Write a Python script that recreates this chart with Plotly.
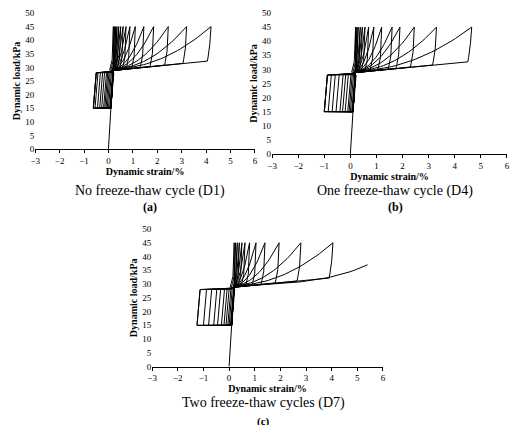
import numpy as np
import plotly.graph_objects as go

# right / left strain extremes of each loop (%)
right_a = [0.2, 0.25, 0.3, 0.35, 0.42, 0.5, 0.6, 0.72, 0.88, 1.1, 1.45, 1.85, 2.45, 3.2, 4.2]
left_a = [0.1, 0.08, 0.05, 0.0, -0.05, -0.1, -0.15, -0.2, -0.28, -0.36, -0.45, -0.55, -0.62, -0.62, -0.62]
right_b = [0.2, 0.25, 0.3, 0.38, 0.46, 0.56, 0.7, 0.9, 1.2, 1.6, 1.9, 2.45, 3.3, 4.65]
left_b = [0.1, 0.05, 0.0, -0.05, -0.1, -0.2, -0.3, -0.4, -0.55, -0.7, -0.85, -1.0, -1.0, -1.0]
right_c = [0.2, 0.25, 0.32, 0.4, 0.5, 0.62, 0.8, 1.05, 1.4, 1.95, 2.8, 4.05]
left_c = [0.1, 0.05, 0.0, -0.05, -0.12, -0.2, -0.3, -0.45, -0.6, -0.8, -1.0, -1.25]
tail_c = 5.4  # last unfinished loading branch in (c)

load_min, load_mid, load_max = 15, 28.5, 45
captions = ["No freeze-thaw cycle (D1)", "One freeze-thaw cycle (D4)", "Two freeze-thaw cycles (D7)"]
letters = ["(a)", "(b)", "(c)"]

t = np.linspace(0, 1, 30)


def left_part(xl):
    # bottom / left side of the loop, slanted rising edge
    return [0.1, xl, xl + 0.12, 0.15], [load_min, load_min, load_mid - 0.5, load_mid]


def loop(xl, xr):
    xs, ys = left_part(xl)
    k = xr / 4.2
    # gentle loading branch, rounded corner, steep rise to peak
    xs += list(0.15 + (xr - 0.3) * t)
    ys += list(load_mid + 0.3 + 3.5 * k * t)
    xs += [xr - 0.12, xr - 0.05, xr]
    ys += [load_mid + 3.8 * k + 1.5, load_mid + 6 * k + 4, load_max]
    # unloading branch back to the centre
    xs += list(xr - (xr - 0.2) * t)
    ys += list(29.5 + (load_max - 29.5) * (1 - t) ** 2)
    xs += [0.1]
    ys += [load_min]
    return xs, ys


panels = [(right_a, left_a), (right_b, left_b), (right_c, left_c)]
# page has an 8px body margin, figure is 504x417
xdom = [[0.054, 0.490], [0.524, 0.99], [0.286, 0.744]]
ydom = [[0.662, 0.988], [0.650, 0.988], [0.140, 0.470]]
cap_x = [0.282, 0.768, 0.506]
cap_y = [0.560, 0.560, 0.052]
let_y = [0.522, 0.522, -0.012]

fig = go.Figure()
font = "Liberation Serif"
for i, (rs, ls) in enumerate(panels):
    ax = "" if i == 0 else str(i + 1)
    X, Y = [0, 0.1], [0, load_min]
    for xr, xl in zip(rs, ls):
        xs, ys = loop(xl, xr)
        X += xs + [None]
        Y += ys + [None]
    if i == 2:
        xs, ys = left_part(ls[-1])
        X += xs + list(0.15 + (tail_c - 0.15) * t)
        Y += ys + list(load_mid + 0.5 + 3 * t + 5 * t ** 4)
    fig.add_trace(go.Scatter(x=X, y=Y, mode="lines", line=dict(color="black", width=1),
                             xaxis="x" + ax, yaxis="y" + ax, showlegend=False))
    fig.update_layout(**{
        "xaxis" + ax: dict(domain=xdom[i], range=[-3, 6], dtick=1, anchor="y" + ax,
                           automargin=False,
                           showgrid=False, zeroline=False, showline=True, linecolor="black",
                           ticks="outside", ticklen=3, tickcolor="black",
                           tickfont=dict(size=9, family=font),
                           title=dict(text="<b>Dynamic strain/%</b>", standoff=1,
                                      font=dict(size=10, family=font))),
        "yaxis" + ax: dict(domain=ydom[i], range=[0, 50], dtick=5, anchor="x" + ax,
                           automargin=False,
                           showgrid=False, zeroline=False, showline=False,
                           tickfont=dict(size=9, family=font),
                           title=dict(text="<b>Dynamic load/kPa</b>", standoff=2,
                                      font=dict(size=10, family=font))),
    })
    fig.add_annotation(x=cap_x[i], y=cap_y[i], xref="paper", yref="paper", showarrow=False,
                       xanchor="center", yanchor="middle",
                       text=captions[i], font=dict(size=14, family=font))
    fig.add_annotation(x=cap_x[i], y=let_y[i], xref="paper", yref="paper", showarrow=False,
                       xanchor="center", yanchor="bottom" if i == 2 else "middle",
                       text="<b>" + letters[i] + "</b>", font=dict(size=11 if i == 2 else 12, family=font))

fig.update_layout(width=504, height=417, margin=dict(l=0, r=0, t=0, b=0),
                  font=dict(color="black"),
                  plot_bgcolor="white", paper_bgcolor="white")
fig.write_html("out.html")
